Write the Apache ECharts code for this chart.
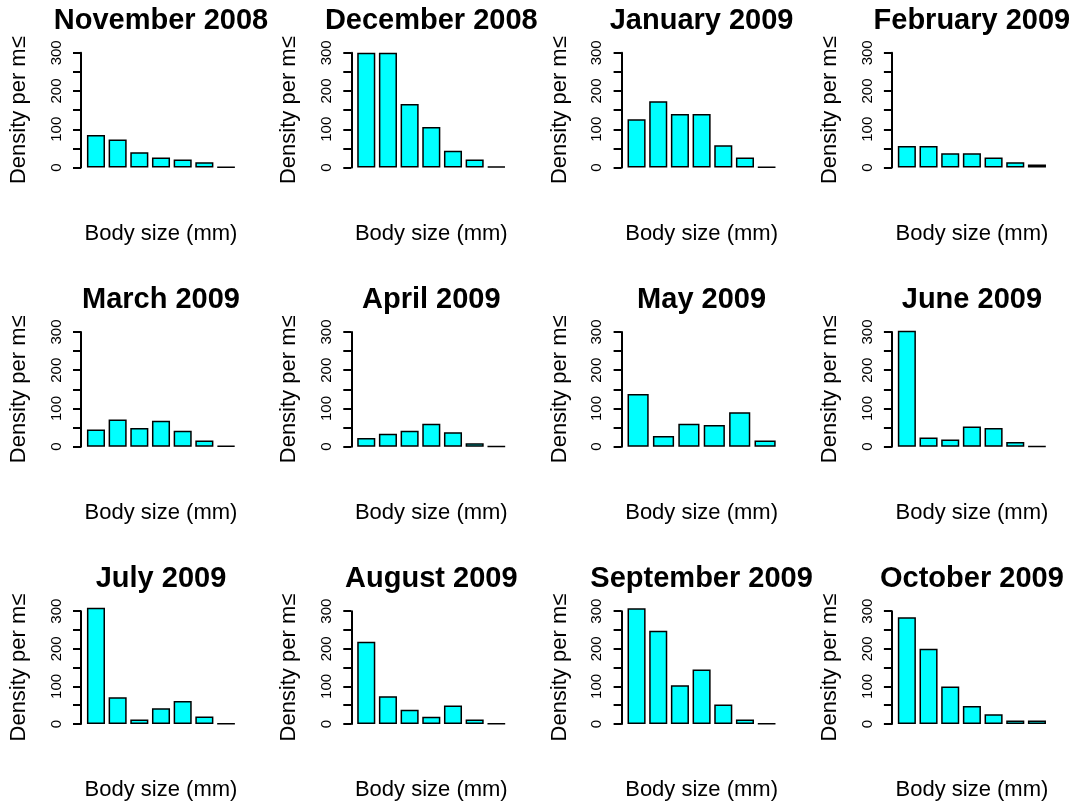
<!DOCTYPE html>
<html>
<head>
<meta charset="utf-8">
<script src="https://cdn.jsdelivr.net/npm/echarts@6/dist/echarts.min.js"></script>
<style>
  html, body { margin: 0; padding: 0; background: #ffffff; }
  #chart { width: 1072px; height: 802px; }
</style>
</head>
<body>
<div id="chart"></div>
<script>
// Monthly size-class densities (individuals per m²), one bar per size class
const months = [
  'November 2008', 'December 2008', 'January 2009', 'February 2009',
  'March 2009', 'April 2009', 'May 2009', 'June 2009',
  'July 2009', 'August 2009', 'September 2009', 'October 2009'
];
const sizeClasses = ['1', '2', '3', '4', '5', '6', '7'];

const nov2008 = [85, 73, 40, 26, 21, 14, 1];
const dec2008 = [300, 300, 166, 106, 44, 21, 2];
const jan2009 = [126, 173, 140, 140, 58, 26, 1];
const feb2009 = [56, 56, 37, 37, 26, 14, 8];
const mar2009 = [45, 71, 49, 68, 42, 16, 2];
const apr2009 = [23, 34, 42, 60, 38, 9, 1];
const may2009 = [138, 28, 60, 57, 90, 16];
const jun2009 = [303, 24, 19, 53, 49, 12, 1];
const jul2009 = [309, 71, 12, 42, 61, 20, 1];
const aug2009 = [219, 74, 38, 19, 49, 12, 1];
const sep2009 = [308, 248, 103, 145, 52, 12, 1];
const oct2009 = [284, 200, 100, 48, 26, 9, 9];

const monthlyValues = [
  nov2008, dec2008, jan2009, feb2009,
  mar2009, apr2009, may2009, jun2009,
  jul2009, aug2009, sep2009, oct2009
];

const yMin = 0;
const yMax = 300;
const yStep = 100;
const yAxisTitle = 'Density per m≤';
const xAxisTitle = 'Body size (mm)';

// ---- panel layout (4 columns x 3 rows) ----
const FONT = '"Liberation Sans", Arial, Helvetica, sans-serif';
const colAxisX = c => 81 + 270.3 * c;     // x of the left axis line
const rowBase = r => 167.5 + 279.2 * r;    // y of the zero line
const plotH = 114.7;                        // height of 0..300
const plotW = 160;                          // plotting region width

const grids = [], xAxes = [], yAxes = [], series = [], titles = [];

monthlyValues.forEach((vals, i) => {
  const c = i % 4, r = Math.floor(i / 4);
  const n = vals.length;
  const span = 1.2 * n - 0.2;
  const unit = plotW / (1.08 * span);
  const axisX = colAxisX(c);
  const left = axisX + (0.04 * span - 0.1) * unit;
  const base = rowBase(r);

  grids.push({ left: left, top: base - plotH, width: 1.2 * n * unit, height: plotH });

  xAxes.push({
    type: 'category', gridIndex: i, data: sizeClasses.slice(0, n),
    axisLine: { show: false }, axisTick: { show: false }, axisLabel: { show: false },
    splitLine: { show: false },
    name: xAxisTitle, nameLocation: 'middle', nameGap: 55,
    nameTextStyle: { fontSize: 22, color: '#000', fontFamily: FONT }
  });

  yAxes.push({
    type: 'value', gridIndex: i, min: yMin, max: yMax, interval: yStep,
    offset: left - axisX,
    axisLine: { show: true, lineStyle: { color: '#000', width: 2 } },
    axisTick: { show: true, length: 8, lineStyle: { color: '#000', width: 2 } },
    minorTick: { show: true, splitNumber: 2, length: 8, lineStyle: { color: '#000', width: 2 } },
    splitLine: { show: false },
    axisLabel: { rotate: 90, fontSize: 15, color: '#000', margin: 17, fontFamily: FONT },
    name: yAxisTitle, nameLocation: 'middle', nameRotate: 90, nameGap: 51,
    nameTextStyle: { fontSize: 22, color: '#000', fontFamily: FONT }
  });

  series.push({
    type: 'bar', xAxisIndex: i, yAxisIndex: i, data: vals,
    barWidth: unit, clip: false, silent: true,
    itemStyle: { color: '#00FFFF', borderColor: '#000', borderWidth: 1.5 }
  });

  titles.push({
    text: months[i], left: axisX + plotW / 2, top: base - 161,
    textAlign: 'center', padding: 0,
    textStyle: { fontSize: 29, fontWeight: 'bold', color: '#000', fontFamily: FONT }
  });
});

const chart = echarts.init(document.getElementById('chart'), null, { renderer: 'canvas' });
chart.setOption({
  backgroundColor: '#ffffff',
  animation: false,
  title: titles,
  grid: grids,
  xAxis: xAxes,
  yAxis: yAxes,
  series: series
});
</script>
</body>
</html>
